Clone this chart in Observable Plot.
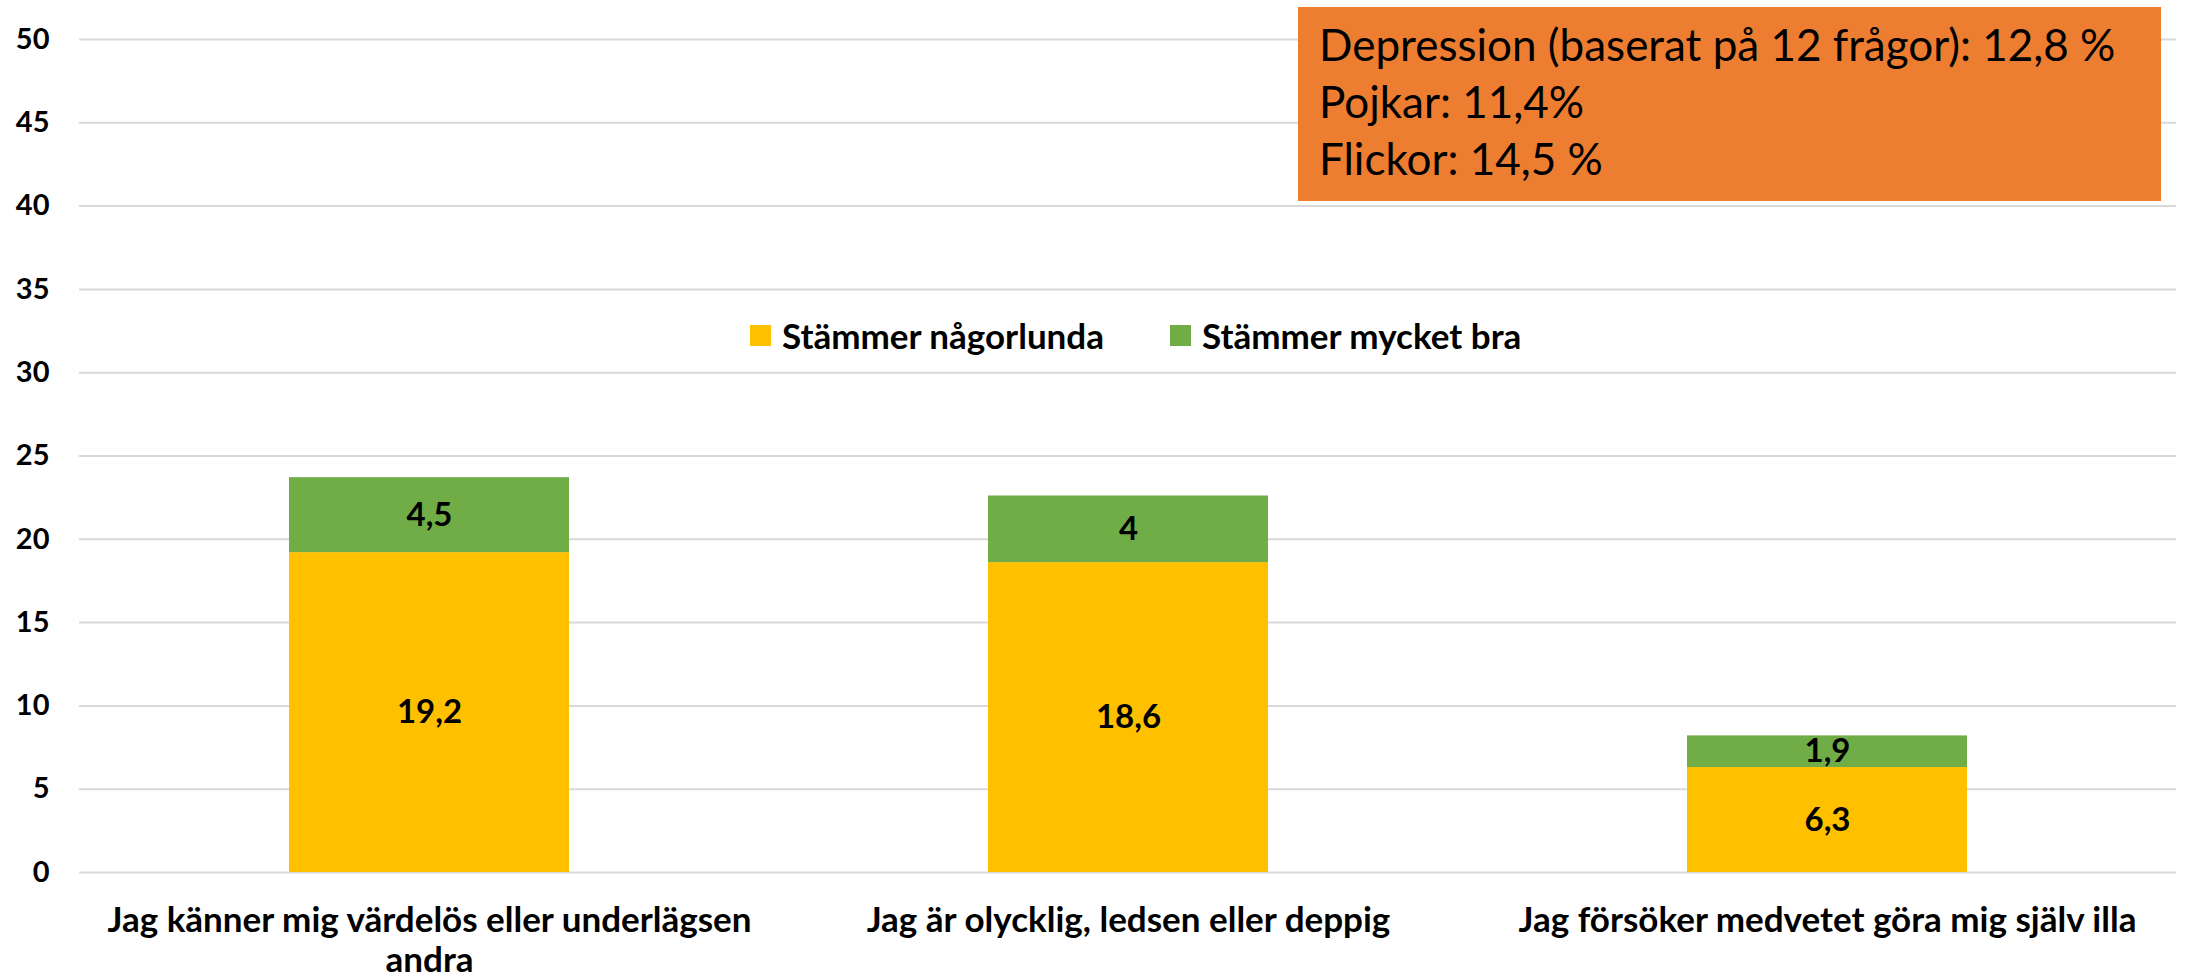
<!DOCTYPE html>
<html>
<head>
<meta charset="utf-8">
<script src="https://cdn.jsdelivr.net/npm/d3@7"></script>
<script src="https://cdn.jsdelivr.net/npm/@observablehq/plot@0.6"></script>
<style>
  html, body { margin: 0; padding: 0; background: #fff; }
  #wrap { position: relative; width: 2200px; height: 980px; font-family: Lato, "Open Sans", sans-serif; }
  #legend { position: absolute; left: 750px; top: 314px; display: flex; align-items: center; font-weight: bold; font-size: 35px; color: #000; }
  #legend .item { display: flex; align-items: center; margin-right: 66px; }
  #legend .sw { width: 21px; height: 21px; margin-right: 11px; }
  #info { position: absolute; left: 1298px; top: 7px; width: 863px; height: 194px; background: #ED7D31; box-sizing: border-box; padding: 9px 0 0 21px; font-size: 44px; line-height: 57px; color: #000; }
</style>
</head>
<body>
<div id="wrap"></div>
<script>
const categories = [
  "Jag känner mig värdelös eller underlägsen\nandra",
  "Jag är olycklig, ledsen eller deppig",
  "Jag försöker medvetet göra mig själv illa"
];
const seriesNames = ["Stämmer någorlunda", "Stämmer mycket bra"];
const somewhatValues = [19.2, 18.6, 6.3];
const veryWellValues = [4.5, 4, 1.9];
const yTicks = [0, 5, 10, 15, 20, 25, 30, 35, 40, 45, 50];
const seriesColors = ["#FFC000", "#70AD47"];
const infoLines = [
  "Depression (baserat på 12 frågor): 12,8 %",
  "Pojkar: 11,4%",
  "Flickor: 14,5 %"
];

const data = [];
categories.forEach((c, i) => {
  data.push({cat: c, series: seriesNames[0], value: somewhatValues[i]});
  data.push({cat: c, series: seriesNames[1], value: veryWellValues[i]});
});
const fmt = v => String(v).replace(".", ",");

const chart = Plot.plot({
  width: 2200,
  height: 980,
  marginLeft: 79,
  marginRight: 24,
  marginTop: 39,
  marginBottom: 108,
  style: {fontFamily: "Lato, 'Open Sans', sans-serif", fontWeight: "bold", color: "#000", background: "transparent"},
  x: {domain: categories, paddingInner: 0.6, paddingOuter: 0.3, label: null},
  y: {domain: [0, 50], label: null},
  color: {domain: seriesNames, range: seriesColors},
  marks: [
    Plot.gridY(yTicks, {stroke: "#d9d9d9", strokeOpacity: 1, strokeWidth: 2}),
    Plot.barY(data, {x: "cat", y: "value", fill: "series"}),
    Plot.text(data, Plot.stackY({x: "cat", y: "value", z: "series", text: d => fmt(d.value), fontSize: 33, fontWeight: "bold", fill: "#000"})),
    Plot.axisY({ticks: yTicks, tickSize: 0, tickPadding: 30, fontSize: 29, fontWeight: "bold", label: null}),
    Plot.axisX({tickSize: 0, tickPadding: 32, fontSize: 35, fontWeight: "bold", lineHeight: 1.12, label: null})
  ]
});

const wrap = document.getElementById("wrap");
wrap.appendChild(chart);

const legend = document.createElement("div");
legend.id = "legend";
seriesNames.forEach((name, i) => {
  const item = document.createElement("div");
  item.className = "item";
  const sw = document.createElement("span");
  sw.className = "sw";
  sw.style.background = seriesColors[i];
  const label = document.createElement("span");
  label.textContent = name;
  item.appendChild(sw);
  item.appendChild(label);
  legend.appendChild(item);
});
wrap.appendChild(legend);

const info = document.createElement("div");
info.id = "info";
infoLines.forEach(line => {
  const d = document.createElement("div");
  d.textContent = line;
  info.appendChild(d);
});
wrap.appendChild(info);
</script>
</body>
</html>
